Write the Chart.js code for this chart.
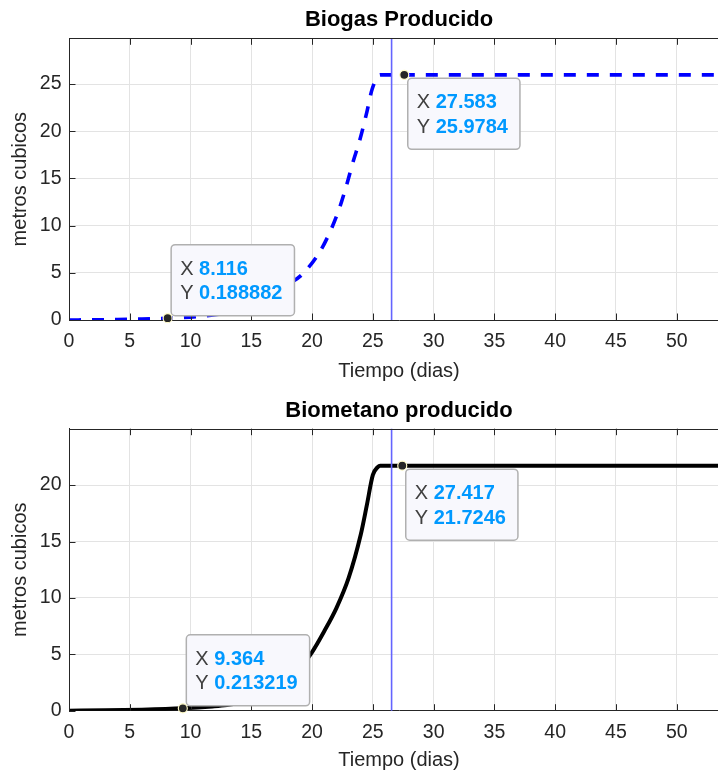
<!DOCTYPE html>
<html>
<head>
<meta charset="utf-8">
<script src="https://cdn.jsdelivr.net/npm/chart.js@4.4.1/dist/chart.umd.min.js"></script>
<style>
html,body{margin:0;padding:0;background:#fff;overflow:hidden;width:718px;height:776px;}
canvas{display:block;}
</style>
</head>
<body>
<canvas id="c1" width="729" height="390"></canvas>
<canvas id="c2" width="729" height="386"></canvas>
<script>
// ---------- data ----------
const xTicks = [0, 5, 10, 15, 20, 25, 30, 35, 40, 45, 50];
const biogasTicksY = [0, 5, 10, 15, 20, 25];
const metanoTicksY = [0, 5, 10, 15, 20];

const biogasX = [0, 2, 4, 6, 8.116, 10, 11, 12, 13, 14, 15, 16, 17, 18, 19.13, 20.64, 21.6, 22.29, 22.84, 23.38, 23.93, 24.48, 24.95, 25.6, 27.583, 54.3];
const biogasY = [0, 0.02, 0.05, 0.1, 0.188882, 0.3, 0.4, 0.55, 0.8, 1.15, 1.6, 2.2, 2.9, 3.75, 4.77, 7.24, 9.7, 12.0, 14.3, 16.8, 19.1, 21.9, 24.5, 25.9784, 25.9784, 25.9784];

const metanoX = [0, 3, 6, 9.364, 11.8, 13, 14, 15, 16, 17, 18, 19, 20, 21, 22, 23, 24, 24.5, 25, 25.4, 25.6, 27.417, 54.3];
const metanoY = [0, 0.03, 0.09, 0.213219, 0.38, 0.5, 0.68, 0.95, 1.35, 1.9, 2.65, 3.75, 5.2, 7.05, 9.1, 11.75, 15.6, 18.2, 20.9, 21.6, 21.7246, 21.7246, 21.7246];

const biogasTipX = [8.116, 27.583];
const biogasTipY = [0.188882, 25.9784];
const metanoTipX = [9.364, 27.417];
const metanoTipY = [0.213219, 21.7246];

const cursorX = 26.54;
const xMax = 54.3;

// ---------- styling ----------
const FONT = '"Liberation Sans", Arial, Helvetica, sans-serif';
Chart.defaults.font.family = FONT;
Chart.defaults.color = '#262626';

function toPoints(xs, ys) { return xs.map((x, i) => ({ x: x, y: ys[i] })); }

const matlabAxes = {
  id: 'matlabAxes',
  afterDatasetsDraw(chart, args, opts) {
    const ctx = chart.ctx;
    const a = chart.chartArea;
    const xs = chart.scales.x, ys = chart.scales.y;
    ctx.save();
    // cursor line
    const cx = xs.getPixelForValue(opts.cursor);
    ctx.strokeStyle = '#6464ff';
    ctx.lineWidth = 1.6;
    ctx.beginPath();
    ctx.moveTo(cx, a.top);
    ctx.lineTo(cx, a.bottom);
    ctx.stroke();
    // box top/right + inward ticks
    ctx.strokeStyle = '#262626';
    ctx.lineWidth = 1;
    ctx.beginPath();
    const ty = Math.round(a.top) + 0.5;
    ctx.moveTo(a.left, ty); ctx.lineTo(a.right, ty);
    ctx.moveTo(a.right - 0.5, a.top); ctx.lineTo(a.right - 0.5, a.bottom);
    const tl = 6.5;
    xs.ticks.forEach(t => {
      const px = Math.round(xs.getPixelForValue(t.value)) + 0.5;
      ctx.moveTo(px, a.bottom); ctx.lineTo(px, a.bottom - tl);
      ctx.moveTo(px, a.top); ctx.lineTo(px, a.top + tl);
    });
    ys.ticks.forEach(t => {
      const py = Math.round(ys.getPixelForValue(t.value)) + 0.5;
      ctx.moveTo(a.left, py); ctx.lineTo(a.left + tl, py);
    });
    ctx.stroke();
    // data tips
    opts.tipX.forEach((tx, i) => {
      const px = xs.getPixelForValue(tx);
      const py = ys.getPixelForValue(opts.tipY[i]);
      drawTip(ctx, px, py, String(tx), String(opts.tipY[i]), opts.place[i]);
    });
    ctx.restore();
  }
};

function drawTip(ctx, px, py, sx, sy, place) {
  ctx.font = '20px ' + FONT;
  const wX = ctx.measureText('X ').width;
  ctx.font = 'bold 20px ' + FONT;
  const wv = Math.max(ctx.measureText(sx).width, ctx.measureText(sy).width);
  const w = 9.5 + wX + wv + 11.5, h = 71;
  const bx = px + 3;
  const by = place === 'up' ? py - 3 - h : py + 3;
  ctx.beginPath();
  ctx.roundRect(bx + 0.5, by + 0.5, w, h, 4);
  ctx.fillStyle = '#f8f8fd';
  ctx.fill();
  ctx.strokeStyle = '#b0b0b0';
  ctx.lineWidth = 1.5;
  ctx.stroke();
  ctx.textBaseline = 'middle';
  ctx.textAlign = 'left';
  const l1 = by + 25, l2 = by + 49.5;
  ctx.font = '20px ' + FONT;
  ctx.fillStyle = '#404040';
  ctx.fillText('X', bx + 9.5, l1);
  ctx.fillText('Y', bx + 9.5, l2);
  ctx.font = 'bold 20px ' + FONT;
  ctx.fillStyle = '#0099ff';
  ctx.fillText(sx, bx + 9.5 + wX, l1);
  ctx.fillText(sy, bx + 9.5 + wX, l2);
  // marker
  ctx.beginPath();
  ctx.arc(px, py, 4.5, 0, Math.PI * 2);
  ctx.fillStyle = '#262626';
  ctx.fill();
  ctx.strokeStyle = '#fffbc8';
  ctx.lineWidth = 1.2;
  ctx.stroke();
}

function makeChart(id, cfg) {
  return new Chart(document.getElementById(id), {
    type: 'line',
    data: {
      datasets: [{
        data: toPoints(cfg.xs, cfg.ys),
        borderColor: cfg.color,
        borderWidth: cfg.width,
        borderDash: cfg.dash,
        pointRadius: 0,
        fill: false,
        cubicInterpolationMode: 'monotone'
      }]
    },
    options: {
      responsive: false,
      animation: false,
      events: [],
      layout: { padding: 0 },
      plugins: {
        legend: { display: false },
        tooltip: { enabled: false },
        title: {
          display: true,
          fullSize: false,
          text: cfg.title,
          color: '#000',
          font: { size: 22, weight: 'bold' },
          padding: cfg.titlePad
        },
        matlabAxes: { cursor: cursorX, tipX: cfg.tipX, tipY: cfg.tipY, place: ['up', 'down'] }
      },
      scales: {
        x: {
          type: 'linear',
          min: 0,
          max: xMax,
          afterBuildTicks: s => { s.ticks = xTicks.map(v => ({ value: v })); },
          afterFit: s => { s.height = cfg.xH; },
          ticks: { autoSkip: false, maxRotation: 0, padding: cfg.xTickPad, color: '#262626', font: { size: 19.5 } },
          grid: { color: '#e3e3e3', drawTicks: false },
          border: { color: '#262626', width: 1 },
          title: { display: true, text: 'Tiempo (dias)', color: '#262626', font: { size: 20 }, padding: { top: 0, bottom: cfg.xTitlePad } }
        },
        y: {
          type: 'linear',
          min: 0,
          max: cfg.yMax,
          afterBuildTicks: s => { s.ticks = cfg.yTicks.map(v => ({ value: v })); },
          afterFit: s => { s.width = 69; },
          ticks: { padding: 7.5, color: '#262626', font: { size: 19.5 } },
          grid: { color: '#e3e3e3', drawTicks: false },
          border: { color: '#262626', width: 1 },
          title: { display: true, text: 'metros cubicos', color: '#262626', font: { size: 20 }, padding: { top: 8.5, bottom: 0 } }
        }
      }
    },
    plugins: [matlabAxes]
  });
}

makeChart('c1', {
  xs: biogasX, ys: biogasY, color: '#0000ff', width: 3.6, dash: [12, 11],
  title: 'Biogas Producido', titlePad: { top: 6.8, bottom: 5.1 },
  tipX: biogasTipX, tipY: biogasTipY, yMax: 29.85, yTicks: biogasTicksY,
  xH: 70, xTickPad: 10.1, xTitlePad: 6.6
});
makeChart('c2', {
  xs: metanoX, ys: metanoY, color: '#000000', width: 4, dash: [],
  title: 'Biometano producido', titlePad: { top: 7.6, bottom: 4.7 },
  tipX: metanoTipX, tipY: metanoTipY, yMax: 25, yTicks: metanoTicksY,
  xH: 65.3, xTickPad: 10.7, xTitlePad: 3.2
});
</script>
</body>
</html>
